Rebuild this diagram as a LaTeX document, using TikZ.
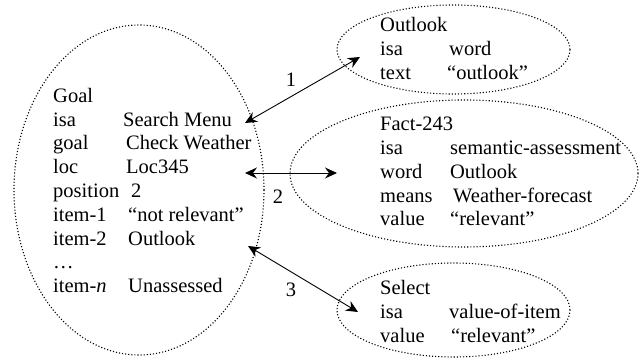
\documentclass[tikz,border=0pt]{standalone}
\usepackage{fontspec}
\setmainfont{Liberation Serif}
\usetikzlibrary{shapes.geometric,arrows.meta}
\newcommand{\chunkhead}[1]{\multicolumn{2}{@{}l@{}}{#1}}

\begin{document}
\begin{tikzpicture}[x=1pt,y=1pt,
  frame/.style={ellipse,draw,dotted,line width=1.1pt,inner sep=0pt},
  slots/.style={anchor=base west,inner sep=0pt,font=\fontsize{20.5}{23.8}\selectfont},
  link/.style={{Stealth[length=12pt,width=11pt,inset=4pt]}-{Stealth[length=12pt,width=11pt,inset=4pt]},line width=0.9pt},
  num/.style={inner sep=0pt,font=\fontsize{20.5}{22}\selectfont}]
\useasboundingbox (0,0) rectangle (641,358);

\node [frame,minimum width=250pt,minimum height=330pt] (goal) at (139,168) {};
\node [slots] (goal-1) at ([xshift=-86pt,yshift=87.7pt]goal.center) {\begin{tabular}[t]{@{}p{73pt}@{}l@{}}
\chunkhead{Goal}\\
isa & \hspace{-3pt}Search Menu\\
goal & Check Weather\\
loc & Loc345\\
position & \hspace{5pt}2\\
item-1 & \hspace{2pt}“not relevant”\\
item-2 & \hspace{2pt}Outlook\\
\chunkhead{…}\\
item-\textit{n} & \hspace{2pt}Unassessed
\end{tabular}};

\node [frame,minimum width=233pt,minimum height=89pt] (outlook) at (453.5,308.5) {};
\node [slots] (outlook-1) at ([xshift=-73.5pt,yshift=17.8pt]outlook.center) {\begin{tabular}[t]{@{}p{69pt}@{}l@{}}
\chunkhead{Outlook}\\
isa & word\\
text & \hspace{-2pt}“outlook”
\end{tabular}};

\node [frame,minimum width=348pt,minimum height=147pt] (fact) at (464,184.5) {};
\node [slots] (fact-1) at ([xshift=-84pt,yshift=42.8pt]fact.center) {\begin{tabular}[t]{@{}p{70pt}@{}l@{}}
\chunkhead{Fact-243}\\
isa & semantic-assessment\\
word & Outlook\\
means & \hspace{3pt}Weather-forecast\\
value & “relevant”
\end{tabular}};

\node [frame,minimum width=233pt,minimum height=94pt] (select) at (453.5,48) {};
\node [slots] (select-1) at ([xshift=-73.5pt,yshift=15pt]select.center) {\begin{tabular}[t]{@{}p{69pt}@{}l@{}}
\chunkhead{Select}\\
isa & value-of-item\\
value & \hspace{2pt}“relevant”
\end{tabular}};

\draw[link]([xshift=106pt,yshift=67pt]goal.center)--node[num,xshift=-11.5pt,yshift=10pt](num1){1}([xshift=-93.5pt,yshift=-7.5pt]outlook.center);
\draw[link]([xshift=106pt,yshift=17pt]goal.center)--node[num,xshift=-13pt,yshift=-24pt](num2){2}([xshift=-127pt,yshift=0.5pt]fact.center);
\draw[link]([xshift=109pt,yshift=-56pt]goal.center)--node[num,xshift=-12pt,yshift=-11pt](num3){3}([xshift=-95.5pt,yshift=-2pt]select.center);

\end{tikzpicture}
\end{document}
